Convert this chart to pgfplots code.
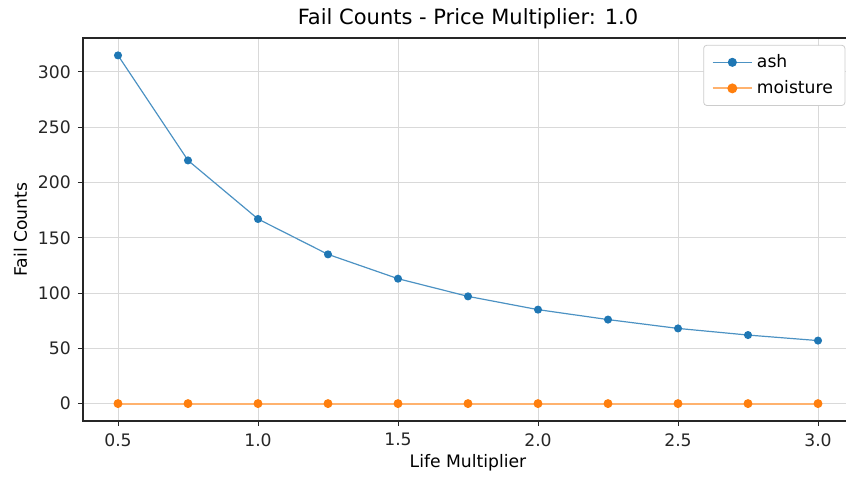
\documentclass[border=0pt]{standalone}
\usepackage{fontspec}
\setmainfont{DejaVu Sans}
\usepackage{pgfplots}
\pgfplotsset{compat=1.18}

\definecolor{mplblue}{HTML}{1F77B4}
\definecolor{mplorange}{HTML}{FF7F0E}

\begin{document}
\begin{tikzpicture}
\begin{axis}[
  scale only axis,
  width=385pt, height=191.5pt,
  xmin=0.375, xmax=3.125,
  ymin=-15.75, ymax=330.75,
  xtick={0.5,1.0,1.5,2.0,2.5,3.0},
  ytick={0,50,100,150,200,250,300},
  xticklabel style={/pgf/number format/.cd,fixed,fixed zerofill,precision=1},
  /pgf/number format/assume math mode=true,
  tick label style={font=\fontsize{8.6}{10}\selectfont, color=black!85},
  tick align=outside,
  tick pos=left,
  major tick length=2.6pt,
  tick style={black!85, line width=0.5pt},
  grid=major,
  grid style={black!15, line width=0.5pt},
  axis line style={black!85, line width=0.6pt},
  title={Fail Counts - Price Multiplier: 1.0},
  title style={font=\fontsize{10.5}{12}\selectfont, yshift=-5pt},
  xlabel={Life Multiplier},
  ylabel={Fail Counts},
  label style={font=\fontsize{8.6}{10}\selectfont},
  xlabel style={yshift=3pt},
  ylabel style={yshift=-1.5pt},
  legend style={at={(0.99,0.982)}, anchor=north east,
    font=\fontsize{8.6}{10}\selectfont,
    draw=black!20, rounded corners=1.5pt, fill=white,
    row sep=1pt, inner xsep=4pt, inner ysep=2.5pt},
  legend cell align=left,
  legend image post style={scale=1.15},
]
\addplot[draw=mplblue!80!white, line width=0.6pt, mark=*, mark size=1.7pt,
  mark options={draw=mplblue, fill=mplblue}]
  coordinates {
    (0.50,315) (0.75,220) (1.00,167) (1.25,135) (1.50,113) (1.75,97)
    (2.00,85) (2.25,76) (2.50,68) (2.75,62) (3.00,57)
  };
\addlegendentry{ash}
\addplot[draw=mplorange!60!white, line width=1.0pt, mark=*, mark size=1.7pt,
  mark options={draw=mplorange, fill=mplorange}]
  coordinates {
    (0.50,0) (0.75,0) (1.00,0) (1.25,0) (1.50,0) (1.75,0)
    (2.00,0) (2.25,0) (2.50,0) (2.75,0) (3.00,0)
  };
\addlegendentry{moisture}
\end{axis}
\pgfresetboundingbox
\useasboundingbox (-41.5pt,-28pt) rectangle (381.5pt,210.5pt);
\end{tikzpicture}
\end{document}
